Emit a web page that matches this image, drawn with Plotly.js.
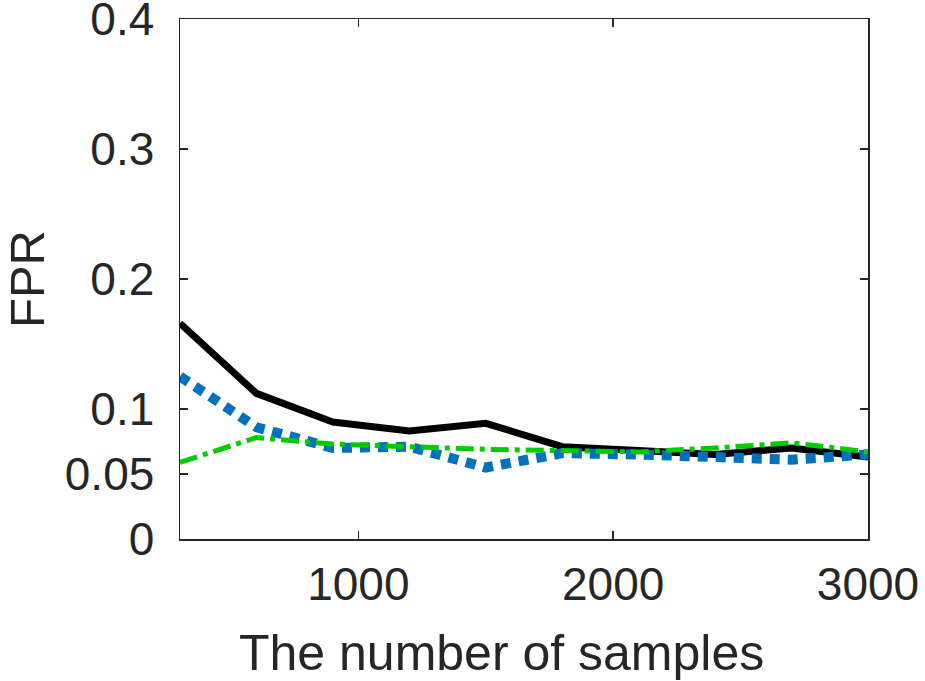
<!DOCTYPE html>
<html>
<head>
<meta charset="utf-8">
<script src="https://cdn.plot.ly/plotly-3.0.1.min.js"></script>
<style>html,body{margin:0;padding:0;background:#fff;}#chart{width:925px;height:681px;}</style>
</head>
<body>
<div id="chart"></div>
<script>
const samples = [300, 600, 900, 1200, 1500, 1800, 2100, 2400, 2700, 3000];
const blackSeries = [0.166, 0.112, 0.090, 0.083, 0.089, 0.071, 0.068, 0.065, 0.070, 0.063];
const blueSeries  = [0.125, 0.086, 0.070, 0.071, 0.055, 0.066, 0.065, 0.063, 0.061, 0.065];
const greenSeries = [0.059, 0.078, 0.073, 0.071, 0.069, 0.068, 0.067, 0.070, 0.074, 0.067];
const yTickVals = [0, 0.05, 0.1, 0.2, 0.3, 0.4];
const yTickText = ['0', '0.05', '0.1', '0.2', '0.3', '0.4'];
const xTickVals = [1000, 2000, 3000];

const traces = [
  {x: samples, y: blackSeries, mode: 'lines', line: {color: '#000000', width: 7}},
  {x: samples, y: blueSeries, mode: 'lines', line: {color: '#0072BD', width: 10, dash: '10px,8px'}},
  {x: samples, y: greenSeries, mode: 'lines', line: {color: '#00CC00', width: 5, dash: '18px,6px,5px,6px'}}
];

const FONT = 'Liberation Sans, Arial, sans-serif';
const axisCommon = {
  showgrid: false, zeroline: false, showline: true, mirror: 'ticks',
  linecolor: '#262626', linewidth: 1.5, ticks: 'inside', ticklen: 8, tickwidth: 1.5,
  tickcolor: '#262626', tickfont: {family: FONT, size: 46, color: '#262626'},
  ticklabeloverflow: 'allow'
};

const layout = {
  width: 925, height: 681,
  margin: {l: 180, r: 57, t: 19, b: 142},
  paper_bgcolor: '#ffffff', plot_bgcolor: '#ffffff',
  showlegend: false,
  xaxis: Object.assign({}, axisCommon, {
    range: [300, 3000], tickvals: xTickVals, ticktext: xTickVals.map(String),
    ticklabelstandoff: 4
  }),
  yaxis: Object.assign({}, axisCommon, {
    range: [0, 0.40001], tickvals: yTickVals, ticktext: yTickText,
    ticklabelstandoff: 15,
    title: {text: 'FPR', standoff: 30, font: {family: FONT, size: 49, color: '#262626'}}
  }),
  annotations: [{
    text: 'The number of samples', xref: 'paper', yref: 'paper', x: 0.468, y: 0,
    yshift: -84, xanchor: 'center', yanchor: 'top', showarrow: false,
    font: {family: FONT, size: 50, color: '#262626'}
  }]
};

Plotly.newPlot('chart', traces, layout, {displayModeBar: false, staticPlot: true});
</script>
</body>
</html>
